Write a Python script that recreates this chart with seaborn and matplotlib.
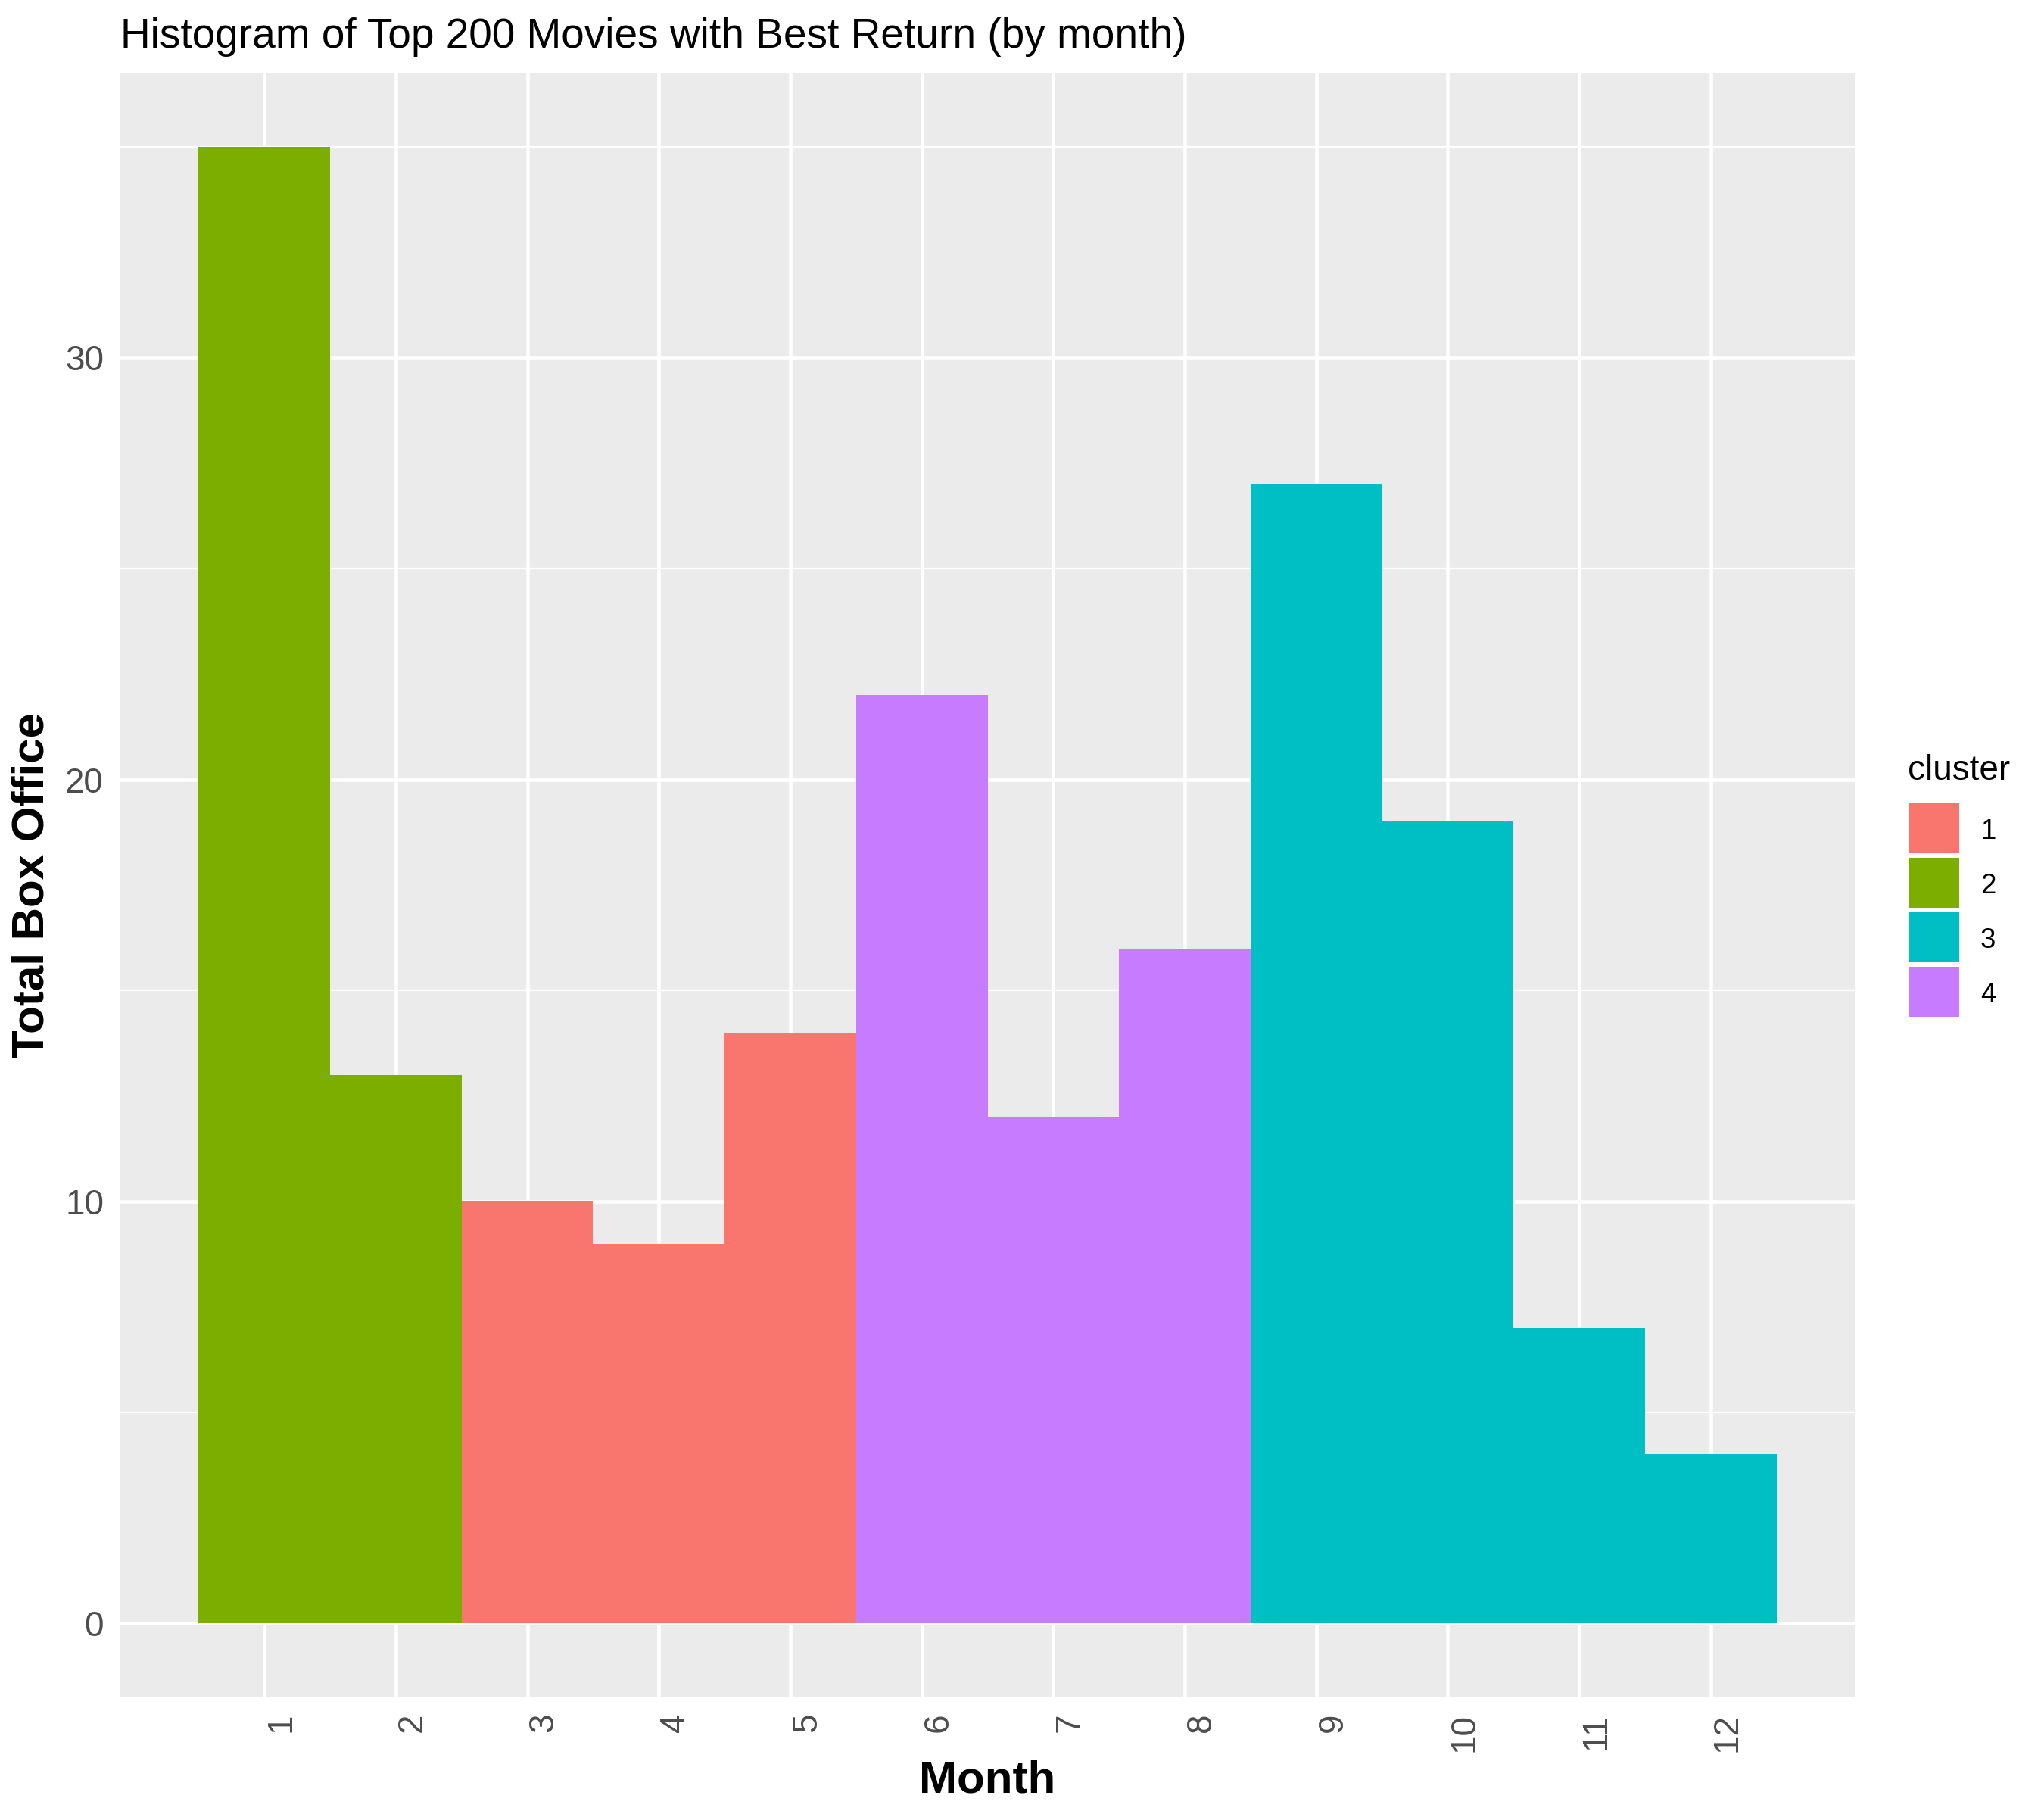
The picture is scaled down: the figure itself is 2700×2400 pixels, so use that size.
import matplotlib
matplotlib.use("Agg")
import matplotlib.pyplot as plt
from matplotlib.patches import Rectangle
from matplotlib.ticker import FixedLocator
import seaborn as sns
import pandas as pd

# ---- data ----
months = [1, 2, 3, 4, 5, 6, 7, 8, 9, 10, 11, 12]
counts = [35, 13, 10, 9, 14, 22, 12, 16, 27, 19, 7, 4]
clusters = ["2", "2", "1", "1", "1", "4", "4", "4", "3", "3", "3", "3"]
cluster_order = ["1", "2", "3", "4"]
cluster_colors = ["#F8766D", "#7CAE00", "#00BFC4", "#C77CFF"]
month_ticks = [1, 2, 3, 4, 5, 6, 7, 8, 9, 10, 11, 12]
y_ticks = [0, 10, 20, 30]
y_minor = [5, 15, 25, 35]

title = "Histogram of Top 200 Movies with Best Return (by month)"
xlabel = "Month"
ylabel = "Total Box Office"
legend_title = "cluster"

sns.set_theme(style="darkgrid")
plt.rcParams["font.family"] = ["Liberation Sans", "DejaVu Sans"]

W, H = 2700, 2400
fig = plt.figure(figsize=(9, 8), dpi=300)
ax = fig.add_axes([158 / W, 1 - 2242 / H, (2451 - 158) / W, (2242 - 96) / H])

df = pd.DataFrame({"month": months, "count": counts, "cluster": clusters})
palette = dict(zip(cluster_order, cluster_colors))

sns.histplot(data=df, x="month", weights="count", hue="cluster",
             hue_order=cluster_order, palette=palette, discrete=True,
             multiple="layer", alpha=1, linewidth=0, shrink=1,
             legend=False, ax=ax)

ax.set_facecolor("#EBEBEB")
for s in ax.spines.values():
    s.set_visible(False)
ax.set_axisbelow(True)
ax.set_xlim(-0.1, 13.1)
ax.set_ylim(-1.75, 36.75)
ax.set_yticks(y_ticks)
ax.yaxis.set_minor_locator(FixedLocator(y_minor))
ax.set_xticks(month_ticks)
ax.set_xticklabels([str(m) for m in month_ticks], rotation=90, ha="left", va="top")
ax.grid(which="major", color="white", linewidth=1.1)
ax.grid(which="minor", axis="y", color="white", linewidth=0.55)
ax.grid(which="minor", axis="x", visible=False)
ax.tick_params(axis="both", which="major", length=2.64, width=1.1,
               color="#333333", pad=2.4, labelsize=11, labelcolor="#4D4D4D")
ax.tick_params(axis="both", which="minor", length=0)
ax.set_xlabel("")
ax.set_ylabel("")

fig.text(159 / W, 1 - 63 / H, title, fontsize=13.2, ha="left", va="baseline", color="black")
fig.text(1304 / W, 1 - 2368 / H, xlabel, fontsize=14.4, fontweight="bold",
         ha="center", va="baseline", color="black")
fig.text(42.5 / W, 1 - 1169 / H, ylabel, fontsize=14.4, fontweight="bold",
         rotation=90, ha="center", va="center", color="black")

# ---- legend (drawn in figure pixel layout) ----
fig.text(2520 / W, 1 - 1030 / H, legend_title, fontsize=11, ha="left",
         va="baseline", color="black")
key_left, key_size, key_top0, key_pitch = 2522, 66, 1061, 72
for i, (lab, col) in enumerate(zip(cluster_order, cluster_colors)):
    top = key_top0 + i * key_pitch
    fig.add_artist(Rectangle((key_left / W, 1 - (top + key_size) / H),
                             key_size / W, key_size / H,
                             transform=fig.transFigure, facecolor=col,
                             edgecolor="none"))
    fig.text(2616 / W, 1 - (top + key_size / 2 + 13.5) / H, lab, fontsize=8.8,
             ha="left", va="baseline", color="black")

fig.savefig("out.png", dpi=300)
